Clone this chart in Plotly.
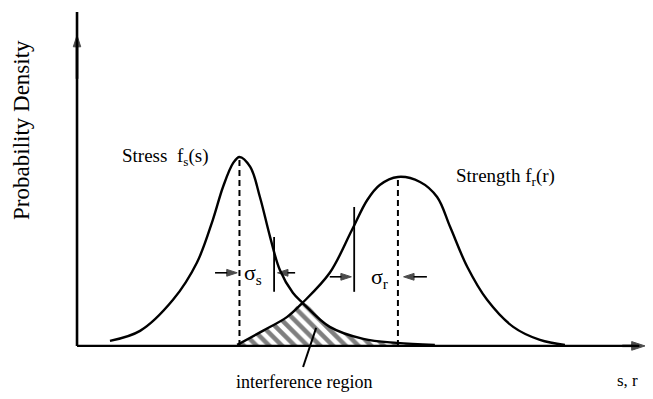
import plotly.graph_objects as go

# Stress density f_s(s): points along the curve (x = stress level, y = density)
stress_x = [0.58, 1.11, 1.69, 2.11, 2.39, 2.57, 2.75, 2.86, 3.05, 3.22, 3.40, 3.57, 3.80, 3.97, 4.45, 5.04, 5.63, 6.30]
stress_y = [0.015, 0.045, 0.138, 0.249, 0.377, 0.476, 0.548, 0.566, 0.536, 0.446, 0.326, 0.228, 0.159, 0.129, 0.057, 0.021, 0.009, 0.003]

# Strength density f_r(r)
strength_x = [2.82, 3.27, 3.70, 3.97, 4.45, 4.84, 5.11, 5.33, 5.65, 6.04, 6.34, 6.57, 6.87, 7.22, 7.68, 8.15, 8.59]
strength_y = [0.003, 0.045, 0.087, 0.129, 0.219, 0.347, 0.437, 0.482, 0.506, 0.491, 0.446, 0.356, 0.237, 0.138, 0.057, 0.018, 0.003]

# Where the two densities cross
cross_x = 3.97

# Standard-deviation markers: bar position/extent, arrow height, arrow tails/tips
sigma_s = dict(bar_x=3.47, y0=0.162, y1=0.326, ay=0.219, left=(2.43, 2.82), right=(3.84, 3.53))
sigma_r = dict(bar_x=4.88, y0=0.162, y1=0.416, ay=0.207, left=(4.45, 4.83), right=(6.16, 5.75))

X_RANGE = [-1.356, 10.141]
Y_RANGE = [-0.159, 1.036]
X_AXIS_END = 10.0
Y_AXIS_TOP = 1.0

FONT = "Liberation Serif"
INK = "black"

fig = go.Figure()

# Interference region: under the lower of the two curves
iz_x = [x for x in strength_x if x <= cross_x] + [x for x in stress_x if x > cross_x]
iz_y = [y for x, y in zip(strength_x, strength_y) if x <= cross_x] + \
       [y for x, y in zip(stress_x, stress_y) if x > cross_x]
fig.add_trace(go.Scatter(
    x=iz_x, y=iz_y, mode="lines", line=dict(width=0, shape="spline"),
    fill="tozeroy", fillcolor="white",
    fillpattern=dict(shape="\\", size=9, solidity=0.5, fgcolor=INK, bgcolor="white"),
    hoverinfo="skip", showlegend=False,
))

for xs, ys in [(stress_x, stress_y), (strength_x, strength_y)]:
    fig.add_trace(go.Scatter(
        x=xs, y=ys, mode="lines",
        line=dict(color=INK, width=2.4, shape="spline", smoothing=1.0),
        hoverinfo="skip", showlegend=False,
    ))


def add_arrow(x_from, y_from, x_to, y_to, width=1.6, head=9):
    """Straight arrow drawn as a line with an arrow marker at its tip."""
    fig.add_trace(go.Scatter(
        x=[x_from, x_to], y=[y_from, y_to], mode="lines+markers",
        line=dict(color=INK, width=width),
        marker=dict(symbol="arrow", size=[0, head], angleref="previous",
                    color=INK, line=dict(width=1, color=INK)),
        hoverinfo="skip", showlegend=False, cliponaxis=False,
    ))


# Axis arrowheads
add_arrow(X_AXIS_END - 0.4, 0, X_AXIS_END, 0, width=2.4, head=14)
add_arrow(0, 0.80, 0, 0.93, width=2.6, head=12)

for s in (sigma_s, sigma_r):
    add_arrow(s["left"][0], s["ay"], s["left"][1], s["ay"], head=11)
    add_arrow(s["right"][0], s["ay"], s["right"][1], s["ay"], head=11)

shapes = []
# Axes
shapes.append(dict(type="line", x0=0, y0=0, x1=X_AXIS_END - 0.1, y1=0,
                   line=dict(color=INK, width=2.4)))
shapes.append(dict(type="line", x0=0, y0=0, x1=0, y1=Y_AXIS_TOP,
                   line=dict(color=INK, width=2.6)))

# Dashed lines at the means (curve peaks)
for xs, ys in [(stress_x, stress_y), (strength_x, strength_y)]:
    i = ys.index(max(ys))
    shapes.append(dict(type="line", x0=xs[i], y0=0, x1=xs[i], y1=ys[i],
                       line=dict(color=INK, width=2, dash="6px,4px")))

# Sigma bars
for s in (sigma_s, sigma_r):
    shapes.append(dict(type="line", x0=s["bar_x"], y0=s["y0"], x1=s["bar_x"], y1=s["y1"],
                       line=dict(color=INK, width=1.8)))

# Leader line to the interference region
shapes.append(dict(type="line", x0=3.98, y0=-0.063, x1=4.21, y1=0.054,
                   line=dict(color=INK, width=2)))


def label(x, y, text, size=15, angle=0):
    return dict(x=x, y=y, xref="x", yref="y", text=text, showarrow=False,
                textangle=angle, font=dict(family=FONT, size=size, color=INK))


annotations = [
    label(1.55, 0.565, "Stress  f<sub>s</sub>(s)", 19),
    label(7.54, 0.505, "Strength f<sub>r</sub>(r)", 19),
    label(4.00, -0.108, "interference region", 18),
    label(-0.968, 0.647, "Probability Density", 23, angle=-90),
    label(3.10, 0.215, "σ<sub>s</sub>", 22),
    label(5.33, 0.203, "σ<sub>r</sub>", 22),
    label(9.70, -0.105, "s, r", 17),
]

fig.update_layout(
    width=653, height=399,
    margin=dict(l=0, r=0, t=0, b=0),
    paper_bgcolor="white", plot_bgcolor="white",
    xaxis=dict(range=X_RANGE, visible=False, fixedrange=True),
    yaxis=dict(range=Y_RANGE, visible=False, fixedrange=True),
    shapes=shapes, annotations=annotations,
    showlegend=False,
)

fig.write_html("out.html")
